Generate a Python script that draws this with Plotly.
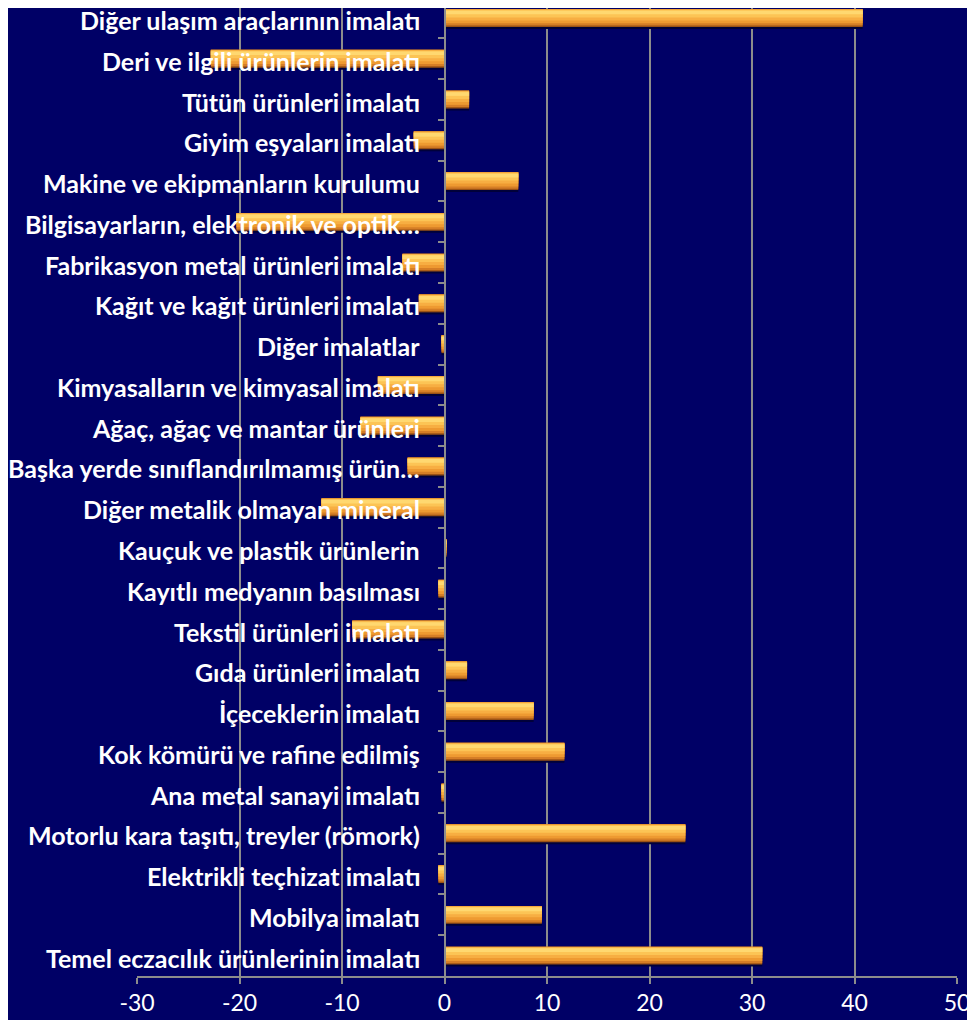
import plotly.graph_objects as go

categories = [
    "Diğer ulaşım araçlarının imalatı",
    "Deri ve ilgili ürünlerin imalatı",
    "Tütün ürünleri imalatı",
    "Giyim eşyaları imalatı",
    "Makine ve ekipmanların kurulumu",
    "Bilgisayarların, elektronik ve optik…",
    "Fabrikasyon metal ürünleri imalatı",
    "Kağıt ve kağıt ürünleri imalatı",
    "Diğer imalatlar",
    "Kimyasalların ve kimyasal imalatı",
    "Ağaç, ağaç ve mantar ürünleri",
    "Başka yerde sınıflandırılmamış ürün…",
    "Diğer metalik olmayan mineral",
    "Kauçuk ve plastik ürünlerin",
    "Kayıtlı medyanın basılması",
    "Tekstil ürünleri imalatı",
    "Gıda ürünleri imalatı",
    "İçeceklerin imalatı",
    "Kok kömürü ve rafine edilmiş",
    "Ana metal sanayi imalatı",
    "Motorlu kara taşıtı, treyler (römork)",
    "Elektrikli teçhizat imalatı",
    "Mobilya imalatı",
    "Temel eczacılık ürünlerinin imalatı",
]
values = [40.8, -22.8, 2.4, -3.0, 7.2, -20.3, -4.1, -2.5, -0.3, -6.5, -8.2, -3.6,
          -12.0, 0.2, -0.6, -9.0, 2.2, 8.7, 11.7, -0.3, 23.5, -0.6, 9.5, 31.0]
x_ticks = [-30, -20, -10, 0, 10, 20, 30, 40, 50]
x_tick_labels = ["-30", "-20", "-10", "0", "10", "20", "30", "40", "50"]

BG = "#000066"
GRID = "#8c8c8c"

fig = go.Figure()

# layered bars to imitate Excel's bevelled orange gradient
layers = [
    dict(offset=-0.18, width=0.45, color="#00003a"),   # soft shadow
    dict(offset=-0.22, width=0.44, color="#9A5215"),
    dict(offset=-0.22, width=0.405, color="#D57E26"),
    dict(offset=-0.22, width=0.35, color="#EE9A31"),
    dict(offset=-0.21, width=0.27, color="#F7AE42"),
    dict(offset=-0.195, width=0.18, color="#FCC455"),
    dict(offset=-0.18, width=0.09, color="#FFD870"),
]
for lay in layers:
    fig.add_trace(go.Bar(
        x=values, y=categories, orientation="h",
        offset=lay["offset"], width=lay["width"],
        marker=dict(color=lay["color"], line=dict(width=0)),
        hoverinfo="skip", showlegend=False,
    ))

for cat in categories:
    fig.add_annotation(
        x=0, y=cat, xref="x", yref="y", text=cat, showarrow=False,
        xanchor="right", yanchor="middle", xshift=-24, yshift=-2,
        borderpad=0,
        font=dict(family="Lato", size=25, color="white", weight="bold"),
    )

fig.update_layout(
    width=975, height=1020,
    margin=dict(l=129, r=26, t=0, b=52),
    paper_bgcolor=BG, plot_bgcolor=BG,
    barmode="overlay",
    showlegend=False,
    xaxis=dict(
        range=[-30, 50], tickvals=x_ticks, ticktext=x_tick_labels,
        showgrid=True, gridcolor=GRID, gridwidth=1.5,
        showline=True, linecolor=GRID, linewidth=1.5,
        ticks="outside", ticklen=6, tickcolor=GRID, tickwidth=1.5,
        ticklabelstandoff=0,
        zeroline=False,
        tickfont=dict(family="Lato", size=23, color="white"),
    ),
    yaxis=dict(
        type="category", range=[len(categories) - 0.5, -0.246],
        showticklabels=False, showgrid=False, zeroline=False,
        anchor="free", position=0.375,
        showline=True, linecolor=GRID, linewidth=1.5,
        ticks="outside", ticklen=6, tickcolor=GRID, tickwidth=1.5,
        tickson="boundaries",
    ),
)

fig.write_html("out.html")
